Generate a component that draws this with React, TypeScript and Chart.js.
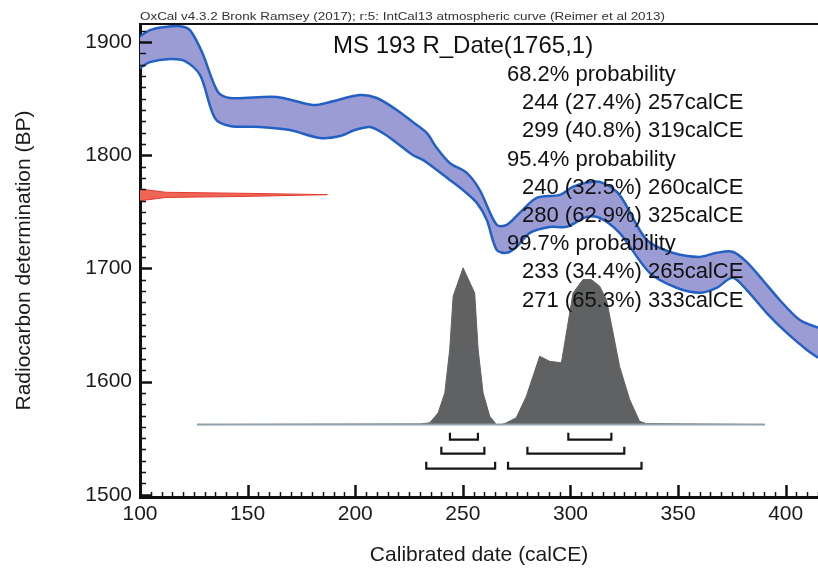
import React, { useEffect, useRef } from 'react';
import { Chart, registerables } from 'chart.js';

Chart.register(...registerables);

const FONT = "'Liberation Sans', Arial, Helvetica, sans-serif";

// Calibration curve (IntCal13) – upper and lower 1σ envelope, BP vs calCE
const upperX = [100, 104.6, 110.7, 118.6, 123.2, 128.8, 136.2, 141.8, 163.6, 180.3, 188.2, 202.1, 210.0, 219.3, 226.7, 233.2, 237.9, 243.9, 251.8, 257.8, 265.7, 270.4, 276.4, 284.3, 295.0, 301.0, 308.9, 314.9, 322.8, 335.4, 347.4, 360.0, 367.9, 375.3, 381.8, 389.2, 397.1, 406.4, 415];
const upperY = [1905, 1910.6, 1913.2, 1914.1, 1910.6, 1891.2, 1855.9, 1850.6, 1851.5, 1844.4, 1847.0, 1853.2, 1850.6, 1840.0, 1829.4, 1819.7, 1806.4, 1793.2, 1784.4, 1769.4, 1738.5, 1738.5, 1749.1, 1762.3, 1765.0, 1772.0, 1776.4, 1775.6, 1765.0, 1725.2, 1713.8, 1710.2, 1713.8, 1714.7, 1705.8, 1690.0, 1672.3, 1654.6, 1647.6];
const lowerX = [100, 104.6, 113.9, 120.9, 127.9, 134.8, 141.8, 155.7, 169.6, 183.6, 192.9, 199.8, 206.8, 212.8, 219.3, 226.7, 231.4, 237.9, 243.9, 250.0, 256.5, 261.1, 265.7, 270.4, 275.0, 281.1, 290.3, 298.2, 307.5, 313.6, 322.8, 336.8, 349.3, 360.0, 367.9, 375.3, 381.8, 391.1, 400.4, 409.7, 415];
const lowerY = [1877, 1882.3, 1885.0, 1883.2, 1870.9, 1832.9, 1825.9, 1825.0, 1822.3, 1815.3, 1817.0, 1822.3, 1825.0, 1819.7, 1810.9, 1800.3, 1795.9, 1787.0, 1778.2, 1769.4, 1757.9, 1742.9, 1716.4, 1713.8, 1719.1, 1731.4, 1736.7, 1736.7, 1745.5, 1744.7, 1731.4, 1696.1, 1682.9, 1678.5, 1682.9, 1691.7, 1681.1, 1660.8, 1643.2, 1628.2, 1621.1];

// Radiocarbon measurement R_Date(1765,1): outline of its density along the BP axis
const measX = [100, 112, 151, 187, 151, 112, 100];
const measY = [1770.2, 1767.3, 1766.3, 1765.2, 1763.7, 1762.7, 1759.8];

// Calibrated probability distribution (relative density)
const distX = [126.5, 230.0, 234.6, 238.5, 241.6, 243.9, 245.5, 250.1, 255.5, 257.1, 259.4, 262.5, 265.6, 268.0, 270.2, 274.8, 279.5, 282.6, 285.7, 290.3, 295.8, 298.1, 301.2, 305.8, 309.7, 313.6, 316.7, 319.8, 322.8, 327.5, 332.1, 335.2, 390.2];
const distP = [0, 0.004, 0.011, 0.074, 0.202, 0.479, 0.819, 1.0, 0.84, 0.479, 0.202, 0.053, 0.0, 0.0, 0.011, 0.043, 0.181, 0.308, 0.436, 0.404, 0.394, 0.585, 0.84, 0.925, 0.925, 0.882, 0.798, 0.585, 0.372, 0.16, 0.021, 0.006, 0];

// Calibrated ranges (calCE)
const ranges682 = [[244, 257], [299, 319]];
const ranges954 = [[240, 260], [280, 325]];
const ranges997 = [[233, 265], [271, 333]];

const xTickValues = [100, 150, 200, 250, 300, 350, 400];
const yTickValues = [1500, 1600, 1700, 1800, 1900];

const headerText = 'OxCal v4.3.2 Bronk Ramsey (2017); r:5: IntCal13 atmospheric curve (Reimer et al 2013)';
const titleText = 'MS 193 R_Date(1765,1)';
const probHeaders = ['68.2% probability', '95.4% probability', '99.7% probability'];
const probLines = [
  ['244 (27.4%) 257calCE', '299 (40.8%) 319calCE'],
  ['240 (32.5%) 260calCE', '280 (62.9%) 325calCE'],
  ['233 (34.4%) 265calCE', '271 (65.3%) 333calCE'],
];

// layout constants (plot coordinates for the distribution block)
const DIST_BASE = 1562;
const DIST_HEIGHT = 138.5;
const BRACKET_LEVELS = [1548.7, 1536.4, 1523.1];
const BRACKET_TICK = 6;

const pts = (xs: number[], ys: number[]) => xs.map((x, i) => ({ x, y: ys[i] }));

const overlayPlugin = {
  id: 'oxcalOverlay',
  afterDatasetsDraw(chart: any) {
    const { ctx, chartArea: a, scales } = chart;
    const xs = scales.x;
    const ys = scales.y;
    ctx.save();
    ctx.strokeStyle = '#111';
    for (let v = 1500; v <= 1910; v += 10) {
      const py = Math.round(ys.getPixelForValue(v)) + 0.5;
      const major = v % 100 === 0;
      ctx.lineWidth = major ? 2.5 : 1.5;
      ctx.beginPath();
      ctx.moveTo(a.left, py);
      ctx.lineTo(a.left + (major ? 12 : 6), py);
      ctx.stroke();
    }
    for (let v = 100; v <= 415; v += 5) {
      const px = Math.round(xs.getPixelForValue(v)) + 0.5;
      const major = v % 50 === 0;
      ctx.lineWidth = major ? 2.5 : 1.5;
      ctx.beginPath();
      ctx.moveTo(px, a.bottom);
      ctx.lineTo(px, a.bottom - (major ? 12 : 5));
      ctx.stroke();
    }
    ctx.lineWidth = 2;
    ctx.strokeStyle = '#111';
    ctx.beginPath();
    ctx.moveTo(a.left, a.top);
    ctx.lineTo(a.right, a.top);
    ctx.stroke();

    ctx.fillStyle = '#333';
    ctx.textBaseline = 'alphabetic';
    ctx.textAlign = 'left';
    ctx.font = `11px ${FONT}`;
    const w = ctx.measureText(headerText).width;
    ctx.save();
    ctx.translate(a.left, a.top - 4);
    ctx.scale(525 / w, 1);
    ctx.fillText(headerText, 0, 0);
    ctx.restore();

    ctx.fillStyle = '#111';
    ctx.textBaseline = 'middle';
    ctx.font = `24px ${FONT}`;
    ctx.fillText(titleText, 333, 46);
    ctx.font = `22px ${FONT}`;
    let yy = 75;
    for (let i = 0; i < probHeaders.length; i++) {
      ctx.fillText(probHeaders[i], 507, yy);
      yy += 28.2;
      for (const l of probLines[i]) {
        ctx.fillText(l, 522, yy);
        yy += 28.2;
      }
    }
    ctx.restore();
  },
};

export default function App() {
  const ref = useRef<HTMLCanvasElement | null>(null);
  useEffect(() => {
    if (!ref.current) return;
    const blue = '#2360c4';
    const bracketSets: any[] = [];
    [ranges682, ranges954, ranges997].forEach((rs, li) => {
      const lv = BRACKET_LEVELS[li];
      rs.forEach(([s, e]) => {
        bracketSets.push({
          data: [
            { x: s, y: lv + BRACKET_TICK },
            { x: s, y: lv },
            { x: e, y: lv },
            { x: e, y: lv + BRACKET_TICK },
          ],
          borderColor: '#151515',
          borderWidth: 2.2,
          pointRadius: 0,
          fill: false,
          tension: 0,
          order: 1,
        });
      });
    });
    const chart = new Chart(ref.current, {
      type: 'line',
      data: {
        datasets: [
          {
            data: pts(upperX, upperY),
            borderColor: blue,
            borderWidth: 2.5,
            pointRadius: 0,
            fill: false,
            tension: 0.3,
            order: 5,
          },
          {
            data: pts(lowerX, lowerY),
            borderColor: blue,
            borderWidth: 2.5,
            backgroundColor: '#9c9cd4',
            pointRadius: 0,
            fill: '-1',
            tension: 0.3,
            order: 5,
          },
          {
            data: pts(measX, measY),
            borderColor: '#e53a2d',
            backgroundColor: '#ef6556',
            borderWidth: 1,
            pointRadius: 0,
            fill: 'shape',
            tension: 0,
            order: 3,
          },
          {
            data: distX.map((x, i) => ({ x, y: DIST_BASE + distP[i] * DIST_HEIGHT })),
            borderColor: '#606162',
            backgroundColor: '#606162',
            borderWidth: 1,
            pointRadius: 0,
            fill: { value: DIST_BASE },
            tension: 0,
            order: 3,
          },
          {
            data: [
              { x: distX[0], y: DIST_BASE },
              { x: distX[distX.length - 1], y: DIST_BASE },
            ],
            borderColor: '#8da2aa',
            borderWidth: 2,
            pointRadius: 0,
            fill: false,
            order: 2,
          },
          ...bracketSets,
        ],
      },
      options: {
        responsive: false,
        maintainAspectRatio: false,
        animation: false,
        devicePixelRatio: 1,
        layout: { padding: { top: 24, right: 0, left: 0, bottom: 0 } },
        plugins: {
          legend: { display: false },
          tooltip: { enabled: false },
          title: { display: false },
        },
        scales: {
          x: {
            type: 'linear',
            min: 100,
            max: 415,
            position: 'bottom',
            grid: { display: false, drawTicks: false },
            border: { display: true, color: '#111', width: 3 },
            afterBuildTicks: (s: any) => {
              s.ticks = xTickValues.map((v) => ({ value: v }));
            },
            afterFit: (s: any) => {
              s.height = 72;
            },
            ticks: {
              font: { size: 21, family: FONT },
              color: '#1a1a1a',
              padding: 5,
              maxRotation: 0,
              autoSkip: false,
              callback: (v: any) => String(v),
            },
            title: {
              display: true,
              text: 'Calibrated date (calCE)',
              font: { size: 21, family: FONT },
              color: '#1a1a1a',
              padding: { top: 0, bottom: 1 },
            },
          },
          y: {
            type: 'linear',
            min: 1498,
            max: 1916,
            grid: { display: false, drawTicks: false },
            border: { display: true, color: '#111', width: 3 },
            afterBuildTicks: (s: any) => {
              s.ticks = yTickValues.map((v) => ({ value: v }));
            },
            afterFit: (s: any) => {
              s.width = 140;
            },
            ticks: {
              font: { size: 21, family: FONT },
              color: '#1a1a1a',
              padding: 8,
              autoSkip: false,
              callback: (v: any) => String(v),
            },
            title: {
              display: true,
              text: 'Radiocarbon determination (BP)',
              font: { size: 21, family: FONT },
              color: '#1a1a1a',
              padding: { top: 12, bottom: 0 },
            },
          },
        },
      },
      plugins: [overlayPlugin],
    } as any);
    return () => chart.destroy();
  }, []);
  return (
    <div style={{ position: 'absolute', left: 0, top: 0, width: 818, height: 569, background: '#fff' }}>
      <canvas ref={ref} width={818} height={569} style={{ display: 'block' }} />
    </div>
  );
}
